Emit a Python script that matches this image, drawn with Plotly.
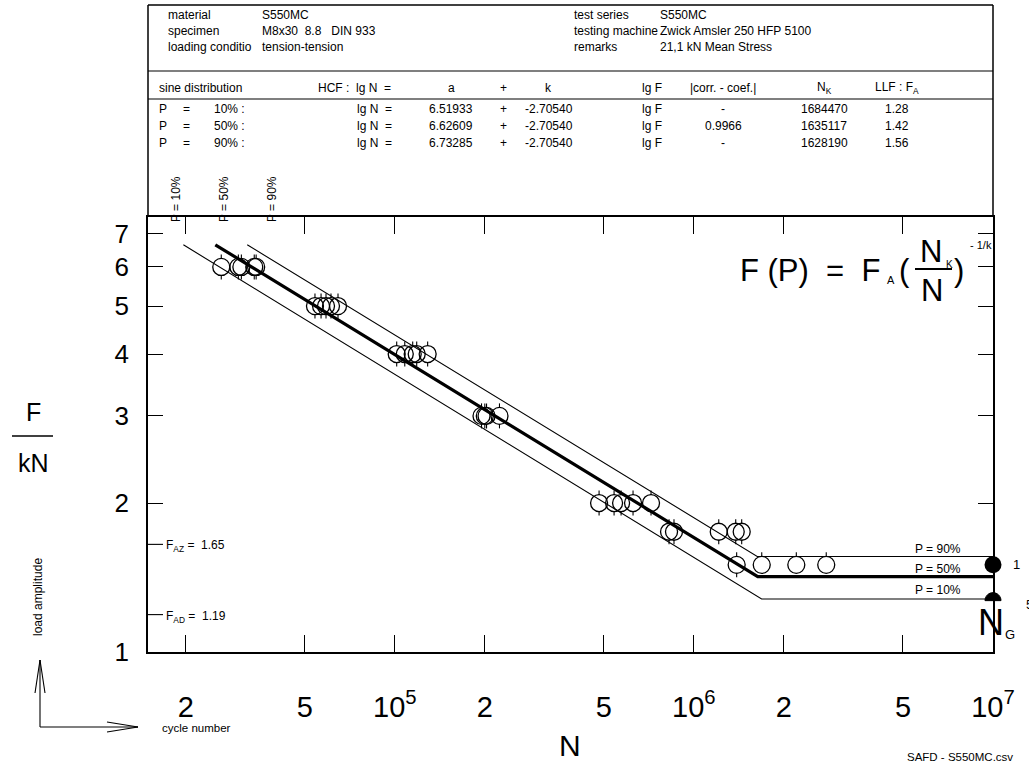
import math
import plotly.graph_objects as go

# ---------------- data ----------------
cycles = [26300, 30000, 30700, 33900, 34400,
          54100, 56700, 58900, 61200, 64600,
          101500, 108000, 114800, 118400, 128800,
          195000, 200000, 202700, 223900,
          482000, 541000, 571000, 626000, 719000,
          826000, 858000, 1211000, 1380000, 1445000,
          1390000, 1686000, 2200000, 2770000]
loads = [6, 6, 6, 6, 6,
         5, 5, 5, 5, 5,
         4, 4, 4, 4, 4,
         3, 3, 3, 3,
         2, 2, 2, 2, 2,
         1.75, 1.75, 1.75, 1.75, 1.75,
         1.5, 1.5, 1.5, 1.5]
runout = [0] * 30 + [1, 1, 1]

prob_labels = ["10%", "50%", "90%"]
a_vals = [6.51933, 6.62609, 6.73285]
k_val = -2.70540
a_text = ["6.51933", "6.62609", "6.73285"]
k_text = "-2.70540"
corr_text = ["-", "0.9966", "-"]
NK_vals = [1684470, 1635117, 1628190]
FA_vals = [1.28, 1.42, 1.56]
F_start = 6.65
N_end = 1e7
F_AZ = 1.65
F_AD = 1.19
runout_F = [1.5, 1.27]
runout_counts = ["1", "5"]

x_ticks = [2e4, 5e4, 1e5, 2e5, 5e5, 1e6, 2e6, 5e6, 1e7]
x_ticktext = ["2", "5", "10<sup>5</sup>", "2", "5", "10<sup>6</sup>", "2", "5", "10<sup>7</sup>"]
y_ticks = [1, 2, 3, 4, 5, 6, 7]
y_ticktext = ["1", "2", "3", "4", "5", "6", "7"]

info_left = [("material", "S550MC"), ("specimen", "M8x30  8.8   DIN 933"),
             ("loading conditio", "tension-tension")]
info_right = [("test series", "S550MC"), ("testing machine", "Zwick Amsler 250 HFP 5100"),
              ("remarks", "21,1 kN Mean Stress")]

# ---------------- geometry (page pixels) ----------------
W, H = 1029, 767
L, R, T, B = 148, 993, 217, 652
XR = [4.175, 7.0]
YR = [0.0, 0.879]
pxx = (R - L) / (XR[1] - XR[0])
pxy = (B - T) / (YR[1] - YR[0])
ARIAL = "Arial, Liberation Sans, Helvetica, sans-serif"
NARROW = "Liberation Sans Narrow, Arial Narrow, Liberation Sans, sans-serif"


def px(X):
    return (X - L) / (R - L)


def py(Y):
    return (B - Y) / (B - T)


annotations = []


def A(text, X, Y, size=12, xa="left", ya="middle", family=ARIAL, angle=0):
    annotations.append(dict(text=text, x=px(X), y=py(Y), xref="paper", yref="paper",
                            xanchor=xa, yanchor=ya, showarrow=False, textangle=angle,
                            font=dict(size=size, family=family, color="black")))


shapes = []


def S(X0, Y0, X1, Y1, w=1.2):
    shapes.append(dict(type="line", xref="paper", yref="paper", x0=px(X0), y0=py(Y0),
                       x1=px(X1), y1=py(Y1), line=dict(color="black", width=w)))


fig = go.Figure()

# probability lines
for i in range(3):
    n0 = 10 ** (a_vals[i] + k_val * math.log10(F_start))
    fig.add_trace(go.Scatter(x=[n0, NK_vals[i], N_end], y=[F_start, FA_vals[i], FA_vals[i]],
                             mode="lines", line=dict(color="black", width=3.2 if i == 1 else 1.1),
                             hoverinfo="skip", showlegend=False))

# tick marks on the data points
tx, ty = [], []
r_in, r_out = 8 / pxy, 12.5 / pxy
for n, f, ro in zip(cycles, loads, runout):
    tx += [n, n, None]
    ty += [f * 10 ** r_in, f * 10 ** r_out, None]
    if not ro:
        tx += [n, n, None]
        ty += [f * 10 ** -r_in, f * 10 ** -r_out, None]
fig.add_trace(go.Scatter(x=tx, y=ty, mode="lines", line=dict(color="black", width=1.1),
                         hoverinfo="skip", showlegend=False))

# data circles
fig.add_trace(go.Scatter(x=cycles, y=loads, mode="markers",
                         marker=dict(symbol="circle-open", size=17, color="black",
                                     line=dict(color="black", width=1.3)),
                         showlegend=False))

# F_AZ / F_AD marks
for fv in [F_AZ, F_AD]:
    fig.add_trace(go.Scatter(x=[10 ** XR[0], 10 ** (XR[0] + 15 / pxx)], y=[fv, fv], mode="lines",
                             line=dict(color="black", width=1.1), hoverinfo="skip", showlegend=False))

# runout summary at N = 1e7
fig.add_trace(go.Scatter(x=[N_end], y=[runout_F[0]], mode="markers", cliponaxis=False,
                         marker=dict(symbol="circle", size=17, color="black"), showlegend=False))
cy = B - (math.log10(runout_F[1]) - YR[0]) * pxy
cx = R
rr = 8
pts = []
for j in range(0, 19):
    ang = math.pi * j / 18
    pts.append((px(cx + rr * math.cos(ang)), py(cy - rr * math.sin(ang))))
path = "M " + " L ".join(f"{a:.5f},{b:.5f}" for a, b in pts) + " Z"
shapes.append(dict(type="path", xref="paper", yref="paper", path=path,
                   fillcolor="black", line=dict(color="black", width=1)))
Y1 = B - (math.log10(runout_F[0]) - YR[0]) * pxy
A(runout_counts[0], 1011, Y1, size=13)
A(runout_counts[1], 1024, cy + 4, size=13)
A("N", 991, 622, size=36, xa="center", family=NARROW)
A("G", 1003, 634, size=13)

# header box
S(L, 5, R, 5, 1.5)
S(L, 5, L, T, 1.5)
S(R, 5, R, T, 1.5)
S(L, 71, R, 71, 1.2)
S(L, 99, R, 99, 1.2)

for j, (lab, val) in enumerate(info_left):
    A(lab, 166, 15 + j * 16, size=12)
    A(val, 260, 15 + j * 16, size=12)
for j, (lab, val) in enumerate(info_right):
    A(lab, 572, 15 + j * 16, size=12)
    A(val, 658, 15 + j * 16, size=12)

A("sine distribution", 157, 88, size=12)
A("HCF :  lg N  =", 316, 88, size=12)
A("a", 451, 88, size=12, xa="center")
A("+", 503, 88, size=12, xa="center")
A("k", 548, 88, size=12, xa="center")
A("lg F", 640, 88, size=12)
A("|corr. - coef.|", 723, 88, size=12, xa="center")
A("N<sub>K</sub>", 824, 88, size=12, xa="center")
A("LLF : F<sub>A</sub>", 897, 88, size=12, xa="center")
for i in range(3):
    Yr = 109 + i * 17
    A("P", 157, Yr)
    A("=", 181, Yr)
    A(prob_labels[i] + " :", 212, Yr)
    A("lg N  =", 355, Yr)
    A(a_text[i], 451, Yr, xa="center")
    A("+", 503, Yr, xa="center")
    A(k_text, 523, Yr)
    A("lg F", 640, Yr)
    A(corr_text[i], 723, Yr, xa="center")
    A(str(NK_vals[i]), 824, Yr, xa="center")
    A(f"{FA_vals[i]:.2f}", 897, Yr, xa="center")

# rotated P labels at top
for i, Xc in enumerate([176, 224, 272]):
    A("P = " + prob_labels[i], Xc, 199, size=12, xa="center", ya="middle", angle=-90)

# right P labels
for i, Yc in enumerate([590, 569, 549]):
    A("P = " + prob_labels[i], 913, Yc, size=12)

# F_AZ / F_AD labels
A("F<sub>AZ</sub> =  " + f"{F_AZ:.2f}", 164, B - math.log10(F_AZ) * pxy + 2, size=12)
A("F<sub>AD</sub> =  " + f"{F_AD:.2f}", 164, B - math.log10(F_AD) * pxy + 2, size=12)

# formula
A("F (P)  =  F", 882, 270, size=31, xa="right")
A("A", 885, 280, size=11)
A("(", 904, 270, size=31, xa="center")
A("N", 931, 251, size=31, xa="center")
A("K", 944, 264, size=10)
S(915, 269, 952, 269, 2.2)
A("N", 932, 290, size=31, xa="center")
A(")", 959, 270, size=31, xa="center")
A("- 1/k", 968, 245, size=11)

# axis titles
A("F", 33, 412, size=25, xa="center")
S(12, 436, 53, 436, 1.5)
A("kN", 33, 463, size=25, xa="center")
A("load amplitude", 38, 597, size=12, xa="center", angle=-90)
A("cycle number", 160, 728, size=11.5, family=NARROW)
A("N", 570, 745, size=30, xa="center", family=NARROW)
A("SAFD - S550MC.csv", 1015, 757, size=11.5, xa="right", family=NARROW)

# arrows
S(40, 727, 40, 660, 1.1)
S(40, 660, 35, 693, 1.1)
S(40, 660, 45, 693, 1.1)
S(40, 727, 138, 727, 1.1)
S(138, 727, 107, 722, 1.1)
S(138, 727, 107, 732, 1.1)

fig.update_layout(
    width=W, height=H, autosize=False,
    margin=dict(l=L, r=W - R, t=T, b=H - B, pad=0),
    paper_bgcolor="white", plot_bgcolor="white",
    showlegend=False,
    annotations=annotations, shapes=shapes,
    xaxis=dict(type="log", range=XR, tickvals=x_ticks, ticktext=x_ticktext,
               ticks="inside", ticklen=17, tickwidth=1.3, tickcolor="black",
               showline=True, linewidth=1.5, linecolor="black", mirror="ticks",
               showgrid=False, zeroline=False, ticklabelstandoff=28,
               tickfont=dict(size=29, family=NARROW, color="black")),
    yaxis=dict(type="log", range=YR, tickvals=y_ticks, ticktext=y_ticktext,
               ticks="inside", ticklen=15, tickwidth=1.3, tickcolor="black",
               showline=True, linewidth=1.5, linecolor="black", mirror="ticks",
               showgrid=False, zeroline=False, ticklabelstandoff=12,
               tickfont=dict(size=26, family=ARIAL, color="black")),
)

fig.write_html("out.html", config={"displayModeBar": False},
               post_script="document.body.style.margin='0px';document.body.style.overflow='hidden';")
